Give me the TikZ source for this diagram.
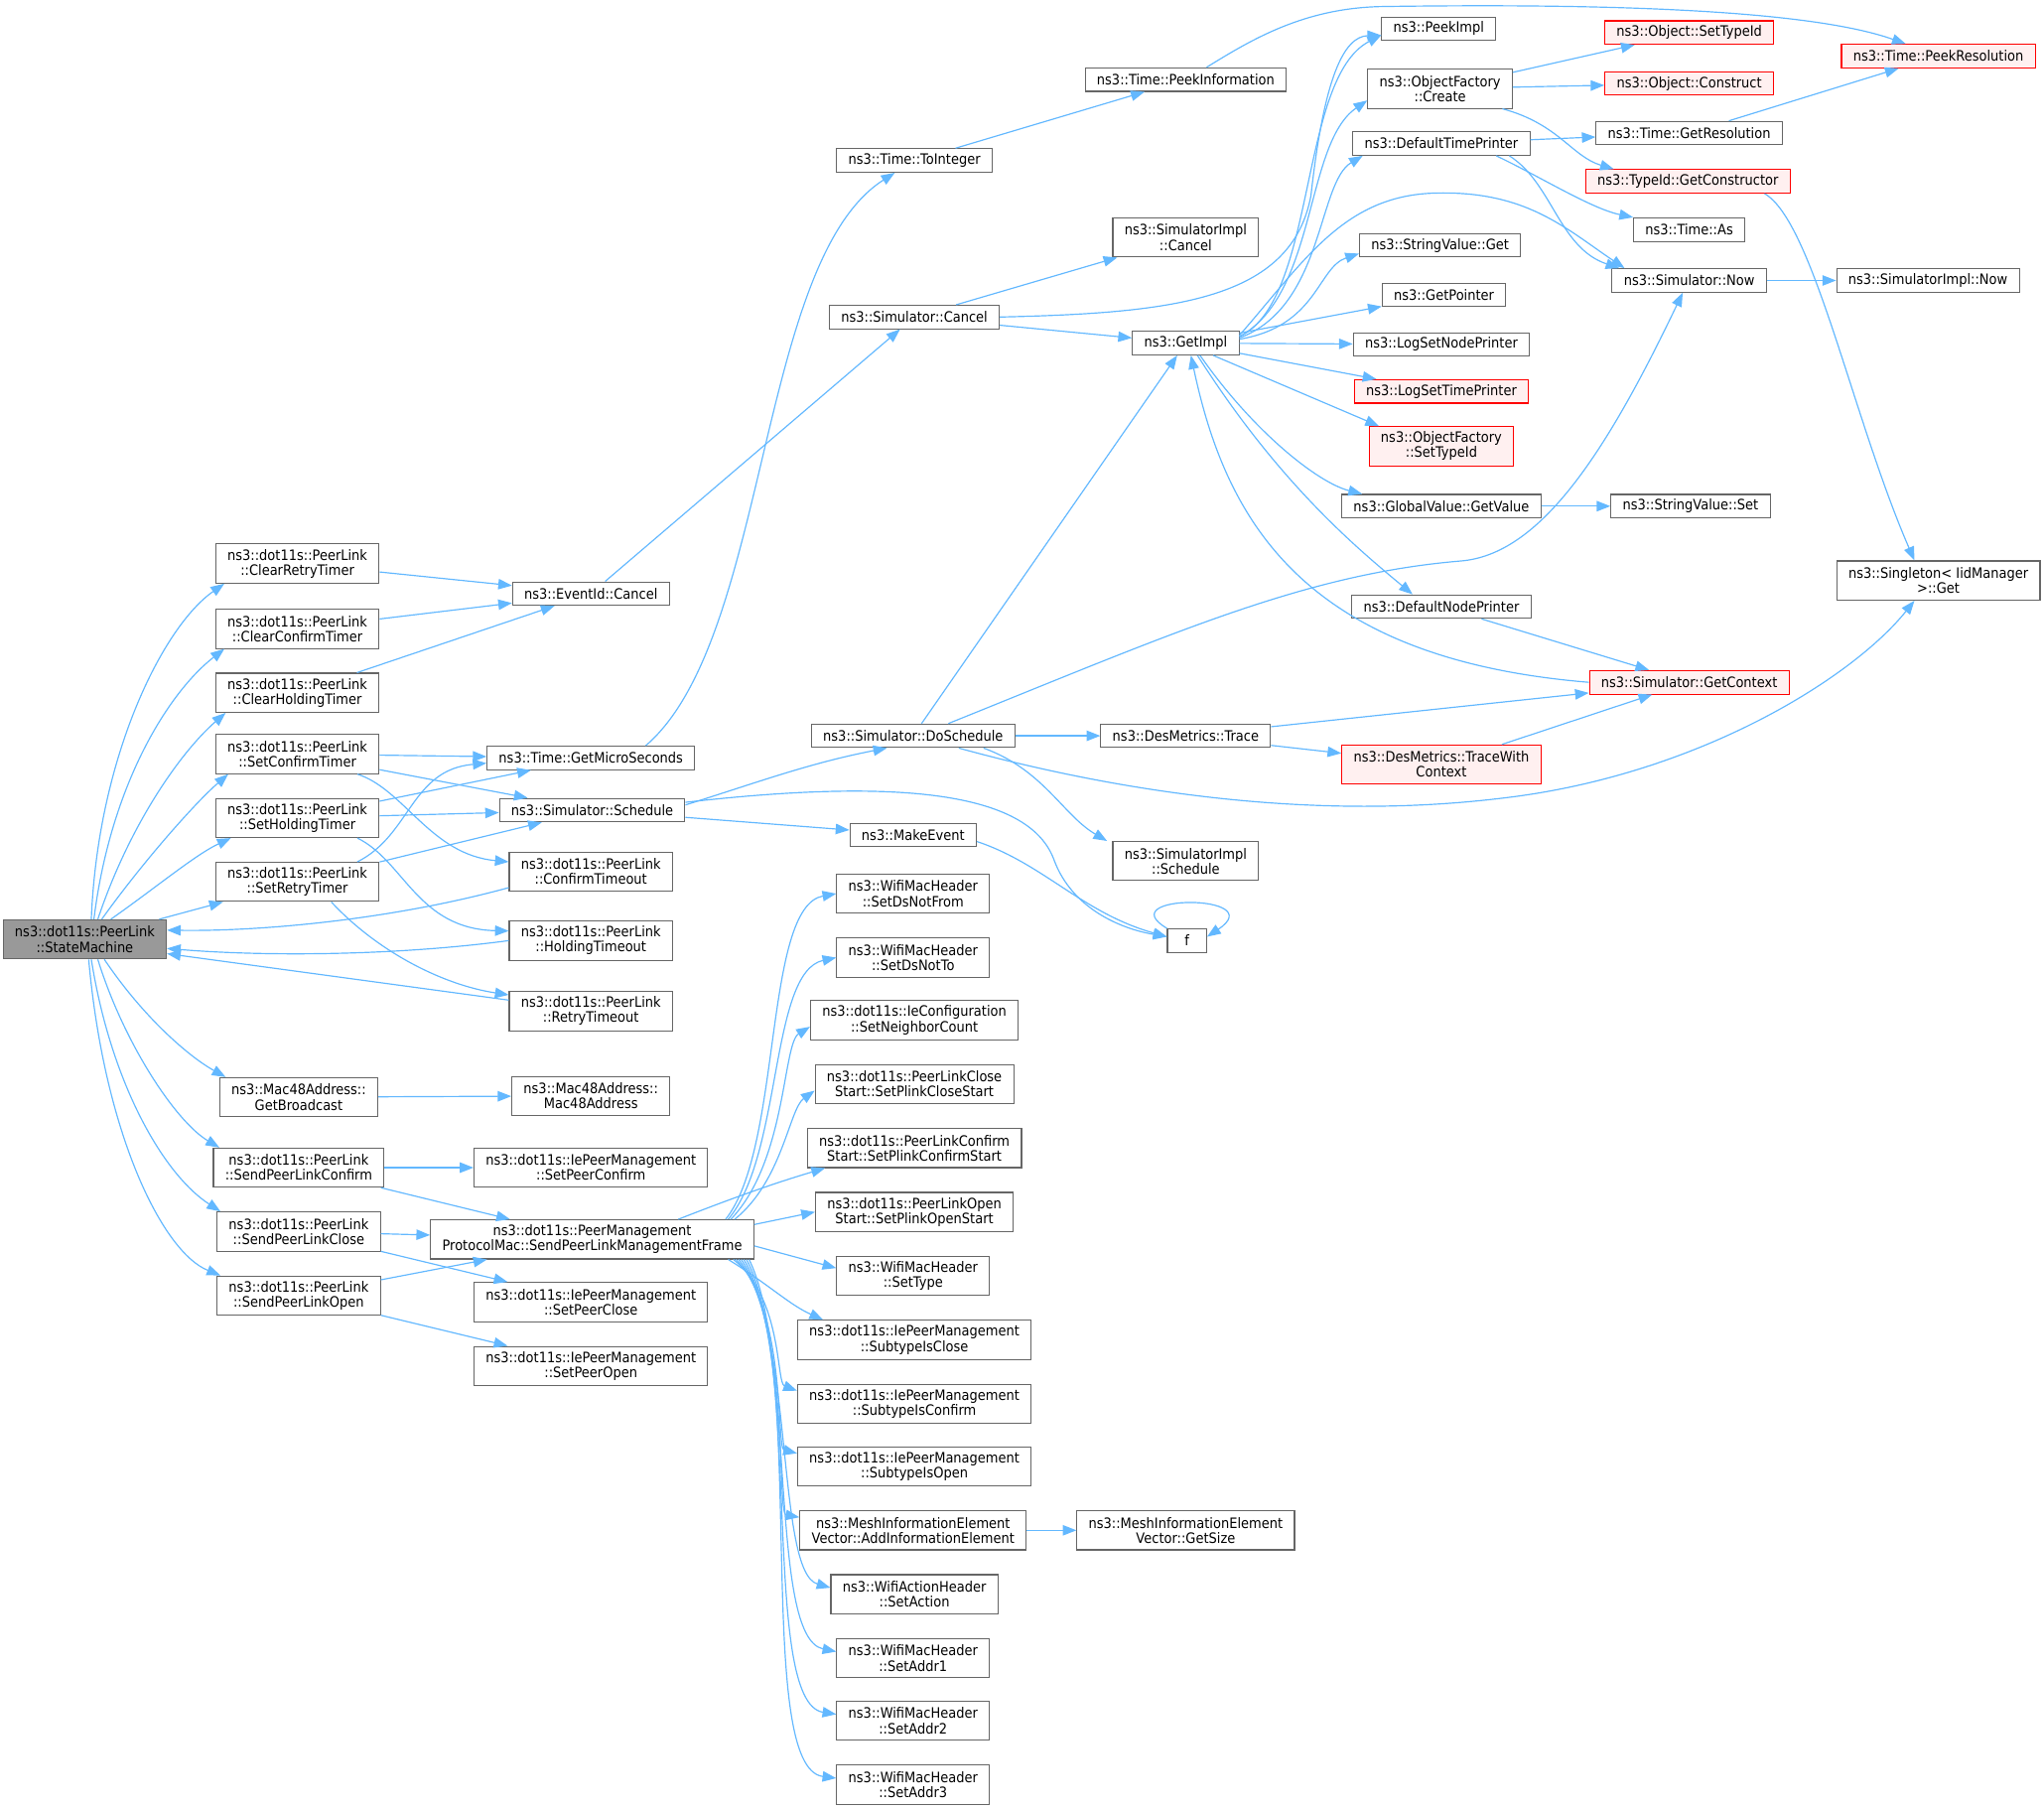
\documentclass[tikz,border=0pt]{standalone}
\usepackage{fontspec}
\setmainfont{DejaVu Sans}[FakeStretch=0.9]
\usetikzlibrary{arrows.meta}

\definecolor{edgeblue}{HTML}{63B8FF}
\definecolor{boxgray}{HTML}{666666}
\definecolor{redfill}{HTML}{FFF0F0}
\definecolor{curgray}{HTML}{999999}

\tikzset{
  fn/.style={draw=boxgray, fill=white, line width=0.8pt, align=center,
    font=\fontsize{11}{11.5}\selectfont, inner xsep=9pt, inner ysep=3.5pt,
    minimum height=18pt},
  fnred/.style={fn, draw=red, fill=redfill},
  fncur/.style={fn, fill=curgray},
  two/.style={minimum height=30pt},
  call/.style={draw=edgeblue, line width=0.9pt, -{Triangle[length=10.5pt,width=8pt]}},
}

\begin{document}
\begin{tikzpicture}[x=1pt, y=-1pt]
\useasboundingbox (0,0) rectangle (1567,1386); % keep the margins

% caller and its direct callees
\node[fncur,two] (sm) at (65,720) {ns3::dot11s::PeerLink\\::StateMachine};
\node[fn,two] (crt) at (228,432) {ns3::dot11s::PeerLink\\::ClearRetryTimer};
\node[fn,two] (cct) at (228,482) {ns3::dot11s::PeerLink\\::ClearConfirmTimer};
\node[fn,two] (cht) at (228,531) {ns3::dot11s::PeerLink\\::ClearHoldingTimer};
\node[fn,two] (sct) at (228,578) {ns3::dot11s::PeerLink\\::SetConfirmTimer};
\node[fn,two] (sht) at (228,627) {ns3::dot11s::PeerLink\\::SetHoldingTimer};
\node[fn,two] (srt) at (228,676) {ns3::dot11s::PeerLink\\::SetRetryTimer};
\node[fn,two] (gbc) at (229,841) {ns3::Mac48Address::\\GetBroadcast};
\node[fn,two] (spc) at (229,895) {ns3::dot11s::PeerLink\\::SendPeerLinkConfirm};
\node[fn,two] (spcl) at (229,944) {ns3::dot11s::PeerLink\\::SendPeerLinkClose};
\node[fn,two] (spo) at (229,993) {ns3::dot11s::PeerLink\\::SendPeerLinkOpen};

\node[fn] (eic) at (453,455) {ns3::EventId::Cancel};
\node[fn] (gms) at (453,581) {ns3::Time::GetMicroSeconds};
\node[fn] (sch) at (454,621) {ns3::Simulator::Schedule};
\node[fn,two] (cto) at (453,668) {ns3::dot11s::PeerLink\\::ConfirmTimeout};
\node[fn,two] (hto) at (453,721) {ns3::dot11s::PeerLink\\::HoldingTimeout};
\node[fn,two] (rto) at (453,775) {ns3::dot11s::PeerLink\\::RetryTimeout};
\node[fn,two] (m48) at (453,840) {ns3::Mac48Address::\\Mac48Address};
\node[fn,two] (spcf) at (453,895) {ns3::dot11s::IePeerManagement\\::SetPeerConfirm};
\node[fn,two] (pmf) at (454,950) {ns3::dot11s::PeerManagement\\ProtocolMac::SendPeerLinkManagementFrame};
\node[fn,two] (spcc) at (453,998) {ns3::dot11s::IePeerManagement\\::SetPeerClose};
\node[fn,two] (spoo) at (453,1047) {ns3::dot11s::IePeerManagement\\::SetPeerOpen};

\node[fn] (tti) at (701,123) {ns3::Time::ToInteger};
\node[fn] (sca) at (701,243) {ns3::Simulator::Cancel};
\node[fn] (dsc) at (700,564) {ns3::Simulator::DoSchedule};
\node[fn] (mke) at (700,640) {ns3::MakeEvent};
\node[fn,two] (sdnf) at (700,685) {ns3::WifiMacHeader\\::SetDsNotFrom};
\node[fn,two] (sdnt) at (700,734) {ns3::WifiMacHeader\\::SetDsNotTo};
\node[fn,two] (snc) at (701,782) {ns3::dot11s::IeConfiguration\\::SetNeighborCount};
\node[fn,two] (spcs) at (701,831) {ns3::dot11s::PeerLinkClose\\Start::SetPlinkCloseStart};
\node[fn,two] (spfs) at (701,880) {ns3::dot11s::PeerLinkConfirm\\Start::SetPlinkConfirmStart};
\node[fn,two] (spos) at (701,929) {ns3::dot11s::PeerLinkOpen\\Start::SetPlinkOpenStart};
\node[fn,two] (stp) at (700,978) {ns3::WifiMacHeader\\::SetType};
\node[fn,two] (sic) at (701,1027) {ns3::dot11s::IePeerManagement\\::SubtypeIsClose};
\node[fn,two] (sicf) at (701,1076) {ns3::dot11s::IePeerManagement\\::SubtypeIsConfirm};
\node[fn,two] (sio) at (701,1124) {ns3::dot11s::IePeerManagement\\::SubtypeIsOpen};
\node[fn,two] (aie) at (700,1173) {ns3::MeshInformationElement\\Vector::AddInformationElement};
\node[fn,two] (sac) at (701,1222) {ns3::WifiActionHeader\\::SetAction};
\node[fn,two] (sa1) at (700,1271) {ns3::WifiMacHeader\\::SetAddr1};
\node[fn,two] (sa2) at (700,1319) {ns3::WifiMacHeader\\::SetAddr2};
\node[fn,two] (sa3) at (700,1368) {ns3::WifiMacHeader\\::SetAddr3};

\node[fn] (pki) at (909,61) {ns3::Time::PeekInformation};
\node[fn,two] (simc) at (909,182) {ns3::SimulatorImpl\\::Cancel};
\node[fn] (gim) at (909,263) {ns3::GetImpl};
\node[fn] (dmt) at (909,564) {ns3::DesMetrics::Trace};
\node[fn,two] (sims) at (909,660) {ns3::SimulatorImpl\\::Schedule};
\node[fn, minimum width=30pt] (f) at (910,721) {f};
\node[fn,two] (gsz) at (909,1173) {ns3::MeshInformationElement\\Vector::GetSize};

\node[fn] (pim) at (1103,22) {ns3::PeekImpl};
\node[fn,two] (ofc) at (1104,68) {ns3::ObjectFactory\\::Create};
\node[fn] (dtp) at (1105,110) {ns3::DefaultTimePrinter};
\node[fn] (svg) at (1104,188) {ns3::StringValue::Get};
\node[fn] (gpt) at (1107,226) {ns3::GetPointer};
\node[fn] (lsnp) at (1105,264) {ns3::LogSetNodePrinter};
\node[fnred] (lstp) at (1105,300) {ns3::LogSetTimePrinter};
\node[fnred,two] (ofst) at (1105,342) {ns3::ObjectFactory\\::SetTypeId};
\node[fn] (ggv) at (1105,388) {ns3::GlobalValue::GetValue};
\node[fn] (dnp) at (1105,465) {ns3::DefaultNodePrinter};
\node[fnred,two] (twc) at (1105,586) {ns3::DesMetrics::TraceWith\\Context};

\node[fnred] (ost) at (1295,25) {ns3::Object::SetTypeId};
\node[fnred] (ocn) at (1295,64) {ns3::Object::Construct};
\node[fn] (grs) at (1295,102) {ns3::Time::GetResolution};
\node[fnred] (tgc) at (1294,139) {ns3::TypeId::GetConstructor};
\node[fn] (tas) at (1295,176) {ns3::Time::As};
\node[fn] (snow) at (1295,215) {ns3::Simulator::Now};
\node[fn] (ssv) at (1296,388) {ns3::StringValue::Set};
\node[fnred] (gctx) at (1295,523) {ns3::Simulator::GetContext};

\node[fnred] (pkr) at (1486,43) {ns3::Time::PeekResolution};
\node[fn] (sin) at (1478,215) {ns3::SimulatorImpl::Now};
\node[fn,two] (sgl) at (1486,445) {ns3::Singleton< IidManager\\>::Get};

% StateMachine fan-out
\draw[call] ([xshift=5]sm.north) .. controls (75,580) and (125,480) .. ([xshift=7]crt.south west);
\draw[call] ([xshift=7]sm.north) .. controls (85,600) and (130,530) .. ([xshift=7]cct.south west);
\draw[call] ([xshift=10]sm.north) .. controls (100,630) and (140,575) .. ([xshift=8]cht.south west);
\draw[call] ([xshift=13]sm.north) .. controls (110,660) and (150,615) .. ([xshift=10]sct.south west);
\draw[call] ([xshift=20]sm.north) .. controls (120,680) and (150,655) .. ([xshift=12]sht.south west);
\draw[call] (sm) -- (srt);
\draw[call] ([xshift=15]sm.south) .. controls (110,780) and (145,810) .. ([xshift=5]gbc.north west);
\draw[call] ([xshift=10]sm.south) .. controls (95,800) and (135,860) .. ([xshift=5]spc.north west);
\draw[call] ([xshift=5]sm.south) .. controls (85,830) and (125,900) .. ([xshift=3]spcl.north west);
\draw[call] ([xshift=3]sm.south) .. controls (80,870) and (125,960) .. ([xshift=3]spo.north west);

% timeouts call back into the state machine
\draw[call] ([yshift=3]cto.south west) .. controls (300,705) and (200,714) .. ([yshift=7]sm.east);
\draw[call] (hto.west) .. controls (300,733) and (200,733) .. ([yshift=-7]sm.east);
\draw[call] ([yshift=-7]rto.north west) -- ([yshift=-11]sm.east);

\draw[call] (crt) -- (eic);
\draw[call] (cct) -- (eic);
\draw[call] (cht) -- (eic);
\draw[call] (sct) -- (gms);
\draw[call] (sct) -- (sch);
\draw[call] ([xshift=-17]sct.south east) .. controls (310,605) and (330,655) .. ([yshift=-8]cto.north west);
\draw[call] (sht) -- (gms);
\draw[call] (sht) -- (sch);
\draw[call] ([xshift=-17]sht.south east) .. controls (310,660) and (320,712) .. ([yshift=-8]hto.north west);
\draw[call] ([xshift=-17]srt.north east) .. controls (315,640) and (315,590) .. ([yshift=-4]gms.west);
\draw[call] (srt) -- (sch);
\draw[call] ([xshift=-37]srt.south east) .. controls (290,730) and (340,755) .. ([yshift=-3]rto.north west);

\draw[call] (eic) -- (sca);
\draw[call] ([xshift=42]gms.north) .. controls (590,490) and (580,200) .. ([xshift=-15]tti.south);
\draw[call] ([yshift=4]sch.east) .. controls (580,600) and (620,585) .. ([xshift=-20]dsc.south);
\draw[call] (sch) -- (mke);
\draw[call] ([yshift=6]sch.east) .. controls (700,595) and (790,610) .. (808,659)
  .. controls (822,697) and (860,712) .. ([yshift=3]f.west);
\draw[call] ([yshift=-5]mke.east) .. controls (800,662) and (830,700) .. ([yshift=3]f.west);
\draw[call] (f.north west) .. controls (850,685) and (975,685) .. ([yshift=3]f.east);

\draw[call] (gbc) -- (m48);
\draw[call] (spc) -- (spcf);
\draw[call] (spc) -- (pmf);
\draw[call] (spcl) -- (pmf);
\draw[call] (spcl) -- (spcc);
\draw[call] (spo) -- (pmf);
\draw[call] (spo) -- (spoo);

% SendPeerLinkManagementFrame fan-out
\draw[call] ([xshift=-22]pmf.north east) .. controls (600,880) and (585,695) .. (sdnf.west);
\draw[call] ([xshift=-20]pmf.north east) .. controls (600,885) and (590,745) .. (sdnt.west);
\draw[call] ([xshift=-18]pmf.north east) .. controls (603,890) and (600,800) .. ([yshift=-5]snc.west);
\draw[call] ([xshift=-15]pmf.north east) .. controls (600,905) and (605,850) .. ([yshift=-5]spcs.west);
\draw[call] ([xshift=66]pmf.north) .. controls (570,915) and (600,905) .. ([xshift=14]spfs.south west);
\draw[call] ([yshift=-4]pmf.north east) -- (spos.west);
\draw[call] ([yshift=-5]pmf.east) -- ([yshift=6]stp.west);
\draw[call] ([xshift=-20]pmf.south east) .. controls (590,985) and (605,1000) .. ([xshift=20]sic.north west);
\draw[call] ([xshift=-16]pmf.south east) .. controls (600,995) and (595,1060) .. ([yshift=10]sicf.west);
\draw[call] ([xshift=-14]pmf.south east) .. controls (603,1005) and (595,1110) .. ([yshift=10]sio.west);
\draw[call] ([xshift=-12]pmf.south east) .. controls (606,1015) and (595,1160) .. ([yshift=10]aie.west);
\draw[call] ([xshift=-10]pmf.south east) .. controls (609,1025) and (595,1205) .. ([yshift=5]sac.west);
\draw[call] ([xshift=-8]pmf.south east) .. controls (612,1035) and (588,1255) .. ([yshift=5]sa1.west);
\draw[call] ([xshift=-6]pmf.south east) .. controls (615,1045) and (583,1305) .. ([yshift=5]sa2.west);
\draw[call] ([xshift=-4]pmf.south east) .. controls (618,1055) and (578,1355) .. ([yshift=5]sa3.west);
\draw[call] (aie) -- (gsz);

\draw[call] (tti) -- (pki);
\draw[call] ([xshift=16]pki.north) .. controls (960,30) and (1000,6) .. (1060,5)
  .. controls (1200,3) and (1380,5) .. ([xshift=-25]pkr.north);
\draw[call] (sca) -- (simc);
\draw[call] (sca) -- (gim);
\draw[call] (sca.east) .. controls (900,240) and (990,230) .. (1005,150)
  .. controls (1015,60) and (1030,28) .. ([yshift=-5]pim.west);

% GetImpl fan-out
\draw[call] ([yshift=5]gim.east) .. controls (1010,230) and (995,60) .. ([yshift=-5]pim.west);
\draw[call] ([yshift=5]gim.east) .. controls (1010,225) and (1000,110) .. ([yshift=-9]ofc.west);
\draw[call] ([yshift=4]gim.east) .. controls (1015,235) and (1010,140) .. ([xshift=8]dtp.south west);
\draw[call] ([yshift=3]gim.east) .. controls (1010,250) and (1010,205) .. ([yshift=3]svg.south west);
\draw[call] (gim) -- (gpt);
\draw[call] (gim) -- (lsnp);
\draw[call] (gim) -- (lstp);
\draw[call] ([xshift=21]gim.south) -- ([xshift=8]ofst.north west);
\draw[call] ([xshift=11]gim.south) .. controls (960,330) and (1010,370) .. ([xshift=16]ggv.north west);
\draw[call] ([xshift=9]gim.south) .. controls (980,370) and (1040,420) .. ([xshift=47]dnp.north west);
\draw[call] ([yshift=6]gim.east) .. controls (1000,200) and (1030,150) .. (1100,148)
  .. controls (1170,146) and (1200,175) .. ([xshift=10]snow.north west);
\draw[call] (gctx.west) .. controls (1000,505) and (940,400) .. ([xshift=4]gim.south);

% DoSchedule
\draw[call] (dsc) -- (gim);
\draw[call] ([xshift=27]dsc.north) .. controls (900,485) and (1000,440) .. (1120,430)
  .. controls (1180,425) and (1230,350) .. ([xshift=-5]snow.south);
\draw[call] (dsc) -- (dmt);
\draw[call] ([xshift=54]dsc.south) .. controls (800,590) and (815,625) .. ([xshift=-4]sims.north west);
\draw[call] ([xshift=35]dsc.south) .. controls (850,605) and (1000,630) .. (1150,612)
  .. controls (1300,595) and (1420,520) .. ([xshift=60]sgl.south west);
\draw[call] (dmt) -- (gctx);
\draw[call] (dmt) -- (twc);
\draw[call] (twc) -- (gctx);
\draw[call] (dnp) -- (gctx);

\draw[call] (dtp) -- (grs);
\draw[call] ([xshift=42]dtp.south) .. controls (1180,135) and (1220,160) .. (tas.north west);
\draw[call] ([xshift=52]dtp.south) .. controls (1190,140) and (1195,190) .. ([xshift=6]snow.north west);
\draw[call] (ofc) -- (ost);
\draw[call] (ofc) -- (ocn);
\draw[call] ([xshift=-8]ofc.south east) .. controls (1195,95) and (1205,120) .. ([xshift=22]tgc.north west);
\draw[call] (grs) -- (pkr);
\draw[call] ([xshift=-20]tgc.south east) .. controls (1390,170) and (1420,320) .. ([xshift=60]sgl.north west);
\draw[call] (snow) -- (sin);
\draw[call] (ggv) -- (ssv);
\end{tikzpicture}
\end{document}
